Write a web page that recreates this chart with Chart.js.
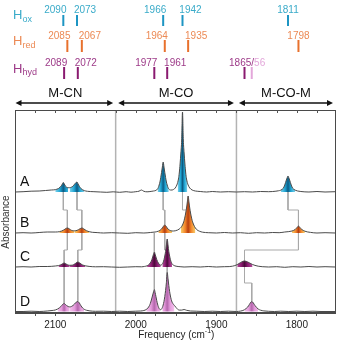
<!DOCTYPE html>
<html>
<head>
<meta charset="utf-8">
<script src="https://cdn.jsdelivr.net/npm/chart.js@4.4.0/dist/chart.umd.min.js"></script>
<style>
  html, body { margin: 0; padding: 0; background: #fff; }
  #c { display: block; }
</style>
</head>
<body>
<canvas id="c" width="339" height="342"></canvas>
<script>
// ---- band assignments (cm-1) ----
const hoxBands  = [2090, 2073, 1966, 1942, 1811];
const hredBands = [2085, 2067, 1964, 1935, 1798];
const hhydBands = [2089, 2072, 1977, 1961, 1865, 1856];

// peaks present in each spectrum
const peaksA = [2090, 2073, 1966, 1942, 1811];
const peaksB = [2085, 2067, 1964, 1935, 1798];
const peaksC = [2089, 2072, 1977, 1961, 1865];
const peaksD = [2089, 2072, 1977, 1961, 1856];

// band correlations between consecutive spectra (upper -> lower)
const linksAB = [[2090, 2085], [2073, 2067], [1966, 1964], [1942, 1935], [1811, 1798]];
const linksBC = [[2085, 2089], [2067, 2072], [1977, 1977], [1964, 1961], [1798, 1865]];
const linksCD = [[2089, 2089], [2072, 2072], [1977, 1977], [1961, 1961], [1865, 1856]];

// spectral regions
const regionNames  = ['M-CN', 'M-CO', 'M-CO-M'];
const regionBounds = [2150, 2025, 1875, 1752];

// axis
const freqMin = 1752, freqMax = 2150;
const xTickLabels = [2100, 2000, 1900, 1800];

// spectra: [frequency, absorbance above own baseline]
const traceNames   = ['A', 'B', 'C', 'D'];
const traceOffsets = [121, 80, 46, 1.5];

const traceA = [
  [2150,0],[2140,0.3],[2130,0.8],[2120,1],[2112,1.5],[2105,2],[2100,2.3],
  [2098,2.8],[2096,3.5],[2094,4.8],[2093,5.8],[2092,6.8],[2091,8.3],[2090,9.5],[2089,8.3],
  [2088,6.8],[2087,5.6],[2086,4.8],[2084,4.3],[2082,4.3],[2080,4.8],[2078,5.8],[2077,6.8],
  [2076,7.8],[2075,8.8],[2074,9.6],[2073,10],[2072,8.6],[2071,7],[2070,5.6],[2069,4.4],
  [2068,3.4],[2066,2.2],[2064,1.4],[2060,0.7],[2052,0.3],[2044,0],[2036,-0.3],[2028,0.2],
  [2020,-0.3],[2012,0.3],[2006,-0.2],[2000,0.3],[1996,0.8],[1993,2],[1990,0.7],[1986,0.2],
  [1981,0.6],[1978,1],[1975,1.6],[1973,3],[1972,4.5],[1971,7],[1970,10],[1969,14.5],
  [1968,19.5],[1967,25],[1966,30],[1965,25],[1964,19.5],[1963,14.5],[1962,10],[1961,7],
  [1960,4.5],[1959,3],[1957,2],[1955,2],[1953,2.6],[1951,4],[1949,7],[1948,9.5],
  [1947,13],[1946,19],[1945,28],[1944,39],[1943,52],[1942,80],[1941,52],[1940,39],
  [1939,28],[1938,19],[1937,13],[1936,9.5],[1935,7],[1933,4],[1930,2],[1926,1],
  [1920,0.5],[1912,0],[1905,0.5],[1895,0],[1885,0.3],[1875,0],[1865,0.3],[1855,0],
  [1845,0.5],[1835,0.3],[1826,0.8],[1823,1.2],[1820,1.8],[1818,2.8],[1817,3.6],[1816,5],
  [1815,7],[1814,9.5],[1813,12],[1812,14.2],[1811,16],[1810,14.2],[1809,12],[1808,9.5],
  [1807,7],[1806,5],[1805,3.6],[1804,2.8],[1802,1.8],[1799,1],[1795,0.5],[1785,0],
  [1775,0.5],[1765,0],[1752,0.3]
];
const traceB = [
  [2150,0],[2140,0.3],[2130,0],[2120,0.5],[2110,1],[2100,1],[2095,1.3],[2092,2],
  [2090,2.8],[2088,3.8],[2087,4.4],[2086,4.8],[2085,5],[2084,4.8],[2083,4.3],[2081,3.2],
  [2079,2.4],[2076,2.2],[2073,2.6],[2071,3.4],[2069,4.4],[2068,4.8],[2067,5],[2066,4.8],
  [2065,4.3],[2063,3.2],[2061,2.2],[2058,1.3],[2054,0.7],[2048,0.4],[2040,0],[2030,0.3],
  [2020,0],[2010,-0.3],[2000,0.3],[1990,0],[1982,0.5],[1976,1],[1972,1.8],[1970,2.6],
  [1968,4],[1967,5],[1966,6.3],[1965,7.4],[1964,8],[1963,7.4],[1962,6.3],[1961,5],
  [1960,4],[1958,2.8],[1955,2],[1951,2.2],[1948,3],[1946,4],[1944,5.5],[1942,8],
  [1941,10],[1940,12.5],[1939,16],[1938,20],[1937,25],[1936,31],[1935,37],[1934,31],
  [1933,25],[1932,20],[1931,16],[1930,12.5],[1929,10],[1928,8],[1926,5],[1924,3.2],
  [1921,1.8],[1917,0.8],[1910,0.3],[1900,0],[1890,0.5],[1880,0],[1870,0.3],[1860,-0.3],
  [1850,0.3],[1840,0],[1830,0.5],[1822,0.3],[1815,1],[1810,1.4],[1806,2],[1804,2.6],
  [1802,3.6],[1801,4.4],[1800,5.3],[1799,6.3],[1798,7],[1797,6.3],[1796,5.3],[1795,4.4],
  [1794,3.6],[1792,2.6],[1790,1.8],[1787,1.1],[1783,0.6],[1775,0],[1765,0.3],[1752,0]
];
const traceC = [
  [2150,0],[2140,0.3],[2130,0],[2120,0.5],[2110,0.5],[2100,1],[2096,1.4],[2093,2.2],
  [2091,3.2],[2090,3.7],[2089,4],[2088,3.7],[2087,3.2],[2085,2.3],[2082,1.7],[2079,1.8],
  [2077,2.4],[2075,3.5],[2074,4.2],[2073,4.7],[2072,5],[2071,4.7],[2070,4.2],[2068,3],
  [2066,2],[2063,1.2],[2058,0.6],[2050,0.2],[2040,0.3],[2030,0],[2020,-0.3],[2010,0],
  [2000,0.3],[1993,0.2],[1989,0.6],[1986,1.2],[1984,2.2],[1982,4],[1981,5.5],[1980,7.5],
  [1979,10],[1978,12.8],[1977,15],[1976,12.8],[1975,10],[1974,7.5],[1973,5.5],[1972,4],
  [1971,2.8],[1970,2],[1969,1.8],[1968,2.2],[1967,3],[1966,4.6],[1965,7.3],[1964,11],
  [1963,15.5],[1962,22],[1961,28],[1960,22],[1959,15.5],[1958,11],[1957,7.3],[1956,4.8],
  [1955,3.2],[1953,1.7],[1950,0.8],[1945,0.3],[1940,0],[1930,0.3],[1920,0],[1910,0.5],
  [1900,0],[1890,0.3],[1884,0.4],[1880,0.8],[1877,1.4],[1874,2.4],[1872,3.4],[1870,4.4],
  [1868,5.3],[1866,5.9],[1865,6],[1863,5.7],[1861,5],[1859,4.2],[1857,3.3],[1855,2.5],
  [1852,1.6],[1848,0.8],[1843,0.3],[1835,0],[1825,0.3],[1815,-0.3],[1805,0.3],[1795,0],
  [1785,0.5],[1775,0],[1765,0.3],[1752,0]
];
const traceD = [
  [2150,0],[2140,0],[2130,0.3],[2120,0],[2110,0.5],[2104,1],[2100,1.5],[2097,2.5],
  [2095,3.6],[2093,5],[2092,6],[2091,7],[2090,7.7],[2089,8],[2088,7.6],[2087,6.8],
  [2086,6],[2084,5],[2082,4.6],[2080,5],[2078,6],[2076,7.5],[2075,8.5],[2074,9.3],
  [2073,9.8],[2072,10],[2071,9.4],[2070,8.4],[2069,7],[2068,5.6],[2066,3.5],[2064,2.2],
  [2061,1.2],[2057,0.6],[2050,0.2],[2040,0.3],[2030,0],[2020,0.3],[2010,0],[2000,0.3],
  [1994,0.5],[1990,1],[1987,2],[1985,3.5],[1983,6],[1982,8],[1981,10.5],[1980,13.5],
  [1979,16.5],[1978,19.5],[1977,22],[1976,19],[1975,15],[1974,11],[1973,7.5],[1972,4.8],
  [1971,3],[1970,2],[1969,1.8],[1968,2.5],[1967,4],[1966,6.5],[1965,10],[1964,15],
  [1963,21],[1962,29],[1961,39],[1960,33],[1959,26],[1958,20],[1957,15.5],[1956,12],
  [1955,9.5],[1954,8],[1952,6],[1950,4],[1948,2.2],[1946,1.4],[1943,1.4],[1940,2],
  [1937,1.2],[1932,0.5],[1925,0.3],[1915,0],[1905,0.3],[1895,0],[1885,0.3],[1875,0],
  [1870,0.4],[1867,1],[1865,1.8],[1863,3],[1861,4.5],[1860,5.6],[1859,7],[1858,8.3],
  [1857,9.4],[1856,10],[1855,9.5],[1854,8.5],[1853,7.2],[1852,6],[1850,4],[1848,2.5],
  [1845,1.3],[1841,0.6],[1835,0.2],[1828,0],[1820,0.3],[1810,0],[1800,0.3],[1790,0],
  [1780,0.3],[1770,0],[1752,0]
];

// ---- styling ----
const FONT = '"Liberation Sans", Arial, Helvetica, sans-serif';
const LINE_COLOR = '#4a4a4a';
const LINK_COLOR = '#a9a9a9';
// gradient stops for peak fills: edge, body, centre
const fillPalettes = [
  ['#7dd2eb', '#20a5d3', '#0b5c85'],
  ['#f9cf6a', '#f2842a', '#b63e10'],
  ['#b54d9a', '#8c1c72', '#4b0a3a'],
  ['#f3c3ec', '#e59cdc', '#b566ad']
];
const linkDrop = [18, 17, 16];

const rowStyles = [
  { sub: 'ox',  bands: hoxBands,  text: '#3aabc9', tick: '#1d95c3', numY: 13,   tickY: [15, 26], hY: 18.5, subY: 21.5 },
  { sub: 'red', bands: hredBands, text: '#ec8a55', tick: '#e8712d', numY: 38.5, tickY: [40, 52], hY: 45,   subY: 47.5 },
  { sub: 'hyd', bands: hhydBands, text: '#9d3a88', tick: '#8a1a70', numY: 65.7, tickY: [67, 79], hY: 72.5, subY: 75 }
];
const paleText = '#e3a7da';
const paleBands = peaksD.filter(f => !peaksC.includes(f));

// ---- datasets ----
const traces = [traceA, traceB, traceC, traceD];
const tracePeaks = [peaksA, peaksB, peaksC, peaksD];
const toXY = (pts, off) => pts.map(p => ({ x: p[0], y: p[1] + off }));
const heightAt = (pts, f) => { const p = pts.find(q => q[0] === f); return p ? p[1] : 0; };

// walk down both flanks of a peak to find the part of the trace to shade
function peakSpan(pts, c) {
  const i = pts.findIndex(p => p[0] === c);
  const h = pts[i][1], floor = 0.12 * h, reach = 10.5;
  let l = i, r = i;
  while (l > 0 && pts[l - 1][1] < pts[l][1] && Math.abs(pts[l - 1][0] - c) <= reach) {
    l--; if (pts[l][1] <= floor) break;
  }
  while (r < pts.length - 1 && pts[r + 1][1] < pts[r][1] && Math.abs(pts[r + 1][0] - c) <= reach) {
    r++; if (pts[r][1] <= floor) break;
  }
  return pts.slice(l, r + 1);
}

function peakGradient(chart, hi, lo, pal) {
  const xs = chart.scales && chart.scales.x;
  if (!chart.chartArea || !xs) return pal[1];
  const x0 = xs.getPixelForValue(hi), x1 = xs.getPixelForValue(lo);
  const g = chart.ctx.createLinearGradient(x0, 0, x1, 0);
  g.addColorStop(0, pal[0]);
  g.addColorStop(0.3, pal[1]);
  g.addColorStop(0.5, pal[2]);
  g.addColorStop(0.7, pal[1]);
  g.addColorStop(1, pal[0]);
  return g;
}

const datasets = [];

// spectrum lines (on top)
traces.forEach((t, i) => {
  datasets.push({
    data: toXY(t, traceOffsets[i]),
    borderColor: LINE_COLOR, borderWidth: 1, pointRadius: 0,
    cubicInterpolationMode: 'monotone', fill: false, order: 0
  });
});

// coloured peak areas
traces.forEach((t, i) => {
  tracePeaks[i].forEach(c => {
    const span = peakSpan(t, c);
    const hi = span[0][0], lo = span[span.length - 1][0];
    const half = Math.max(hi - c, c - lo);
    datasets.push({
      data: toXY(span, traceOffsets[i]),
      borderWidth: 0, borderColor: 'rgba(0,0,0,0)', pointRadius: 0,
      cubicInterpolationMode: 'monotone',
      fill: { value: traceOffsets[i] },
      backgroundColor: ctx => peakGradient(ctx.chart, c + half, c - half, fillPalettes[i]),
      order: 1
    });
  });
});

// correlation step lines between spectra
[linksAB, linksBC, linksCD].forEach((links, k) => {
  const upOff = traceOffsets[k], lowOff = traceOffsets[k + 1];
  const mid = upOff - linkDrop[k];
  links.forEach(([f1, f2]) => {
    datasets.push({
      data: [
        { x: f1, y: upOff },
        { x: f1, y: mid },
        { x: f2, y: mid },
        { x: f2, y: lowOff + heightAt(traces[k + 1], f2) }
      ],
      borderColor: LINK_COLOR, borderWidth: 1, pointRadius: 0,
      tension: 0, fill: false, order: 2
    });
  });
});

// x ticks every 25 cm-1
const tickValues = [];
for (let v = 1775; v <= 2125; v += 25) tickValues.push(v);

// ---- annotations drawn around the plot ----
const decorations = {
  id: 'decorations',
  beforeDatasetsDraw(chart) {
    const { ctx, chartArea: a } = chart;
    const xs = chart.scales.x;
    ctx.save();
    ctx.strokeStyle = '#b3b3b3';
    ctx.lineWidth = 1.5;
    regionBounds.slice(1, -1).forEach(f => {
      const x = xs.getPixelForValue(f);
      ctx.beginPath(); ctx.moveTo(x, a.top); ctx.lineTo(x, a.bottom); ctx.stroke();
    });
    ctx.restore();
  },
  afterDraw(chart) {
    const { ctx, chartArea: a } = chart;
    const xs = chart.scales.x, ys = chart.scales.y;
    ctx.save();

    // frame
    ctx.strokeStyle = '#4a4a4a';
    ctx.lineWidth = 1;
    ctx.strokeRect(Math.round(a.left) + 0.5, Math.round(a.top) + 0.5,
                   Math.round(a.right - a.left) - 1, Math.round(a.bottom - a.top) - 1);
    // inward ticks on the top edge
    ctx.strokeStyle = '#555';
    tickValues.forEach(v => {
      const x = Math.round(xs.getPixelForValue(v)) + 0.5;
      ctx.beginPath(); ctx.moveTo(x, a.top); ctx.lineTo(x, a.top + 3); ctx.stroke();
    });

    // band assignment rows
    rowStyles.forEach(r => {
      ctx.fillStyle = r.text;
      ctx.textAlign = 'left';
      ctx.textBaseline = 'alphabetic';
      ctx.font = '13px ' + FONT;
      ctx.fillText('H', 13, r.hY);
      ctx.font = '9px ' + FONT;
      ctx.fillText(r.sub, 22.5, r.subY);

      const b = r.bands;
      ctx.font = '10px ' + FONT;
      ctx.textAlign = 'center';
      for (let i = 0; i < b.length; i++) {
        const f = b[i];
        const x = xs.getPixelForValue(f);
        const pale = paleBands.includes(f);
        ctx.strokeStyle = pale ? paleText : r.tick;
        ctx.lineWidth = 2;
        ctx.beginPath(); ctx.moveTo(x, r.tickY[0]); ctx.lineTo(x, r.tickY[1]); ctx.stroke();
      }
      for (let i = 0; i < b.length; i++) {
        const f = b[i];
        const x = xs.getPixelForValue(f);
        const next = b[i + 1], prev = b[i - 1];
        if (next !== undefined && f - next < 12) {
          // two close bands share one label, e.g. 1865/56
          const x2 = xs.getPixelForValue(next);
          const t1 = String(f) + '/', t2 = String(next).slice(2);
          const w1 = ctx.measureText(t1).width, w2 = ctx.measureText(t2).width;
          const start = (x + x2) / 2 - 1 - (w1 + w2) / 2;
          ctx.textAlign = 'left';
          ctx.fillStyle = r.text;
          ctx.fillText(t1, start, r.numY);
          ctx.fillStyle = paleText;
          ctx.fillText(t2, start + w1, r.numY);
          ctx.textAlign = 'center';
          ctx.fillStyle = r.text;
          i++;
          continue;
        }
        let dx = 0;
        if (next !== undefined && f - next < 35) dx = -8;
        else if (prev !== undefined && prev - f < 35) dx = 8;
        ctx.fillStyle = r.text;
        ctx.fillText(String(f), x + dx, r.numY);
      }
    });

    // region names and double arrows
    ctx.fillStyle = '#111';
    ctx.strokeStyle = '#111';
    ctx.font = '13px ' + FONT;
    ctx.textAlign = 'center';
    for (let i = 0; i < regionNames.length; i++) {
      const xl = xs.getPixelForValue(regionBounds[i]);
      const xr = xs.getPixelForValue(regionBounds[i + 1]);
      ctx.fillText(regionNames[i], (xl + xr) / 2, 97);
      const l = xl + (i === 0 ? 0.5 : 2.5), rr = xr - 2.5;
      const y = 103;
      ctx.lineWidth = 1.4;
      ctx.beginPath(); ctx.moveTo(l + 3, y); ctx.lineTo(rr - 3, y); ctx.stroke();
      ctx.beginPath(); ctx.moveTo(l, y); ctx.lineTo(l + 6, y - 3); ctx.lineTo(l + 6, y + 3); ctx.closePath(); ctx.fill();
      ctx.beginPath(); ctx.moveTo(rr, y); ctx.lineTo(rr - 6, y - 3); ctx.lineTo(rr - 6, y + 3); ctx.closePath(); ctx.fill();
    }

    // spectrum letters
    ctx.font = '14px ' + FONT;
    ctx.textAlign = 'left';
    ctx.fillStyle = '#111';
    traceNames.forEach((n, i) => {
      ctx.fillText(n, 20, ys.getPixelForValue(traceOffsets[i]) - 6);
    });

    // axis titles
    ctx.fillStyle = '#222';
    ctx.font = '10px ' + FONT;
    const t1 = 'Frequency (cm', t2 = '-1', t3 = ')';
    const w1 = ctx.measureText(t1).width;
    ctx.font = '7px ' + FONT;
    const w2 = ctx.measureText(t2).width;
    ctx.font = '10px ' + FONT;
    const w3 = ctx.measureText(t3).width;
    const cx = (a.left + a.right) / 2 + 1;
    const sx = cx - (w1 + w2 + w3) / 2;
    ctx.textAlign = 'left';
    ctx.fillText(t1, sx, 337.5);
    ctx.font = '7px ' + FONT;
    ctx.fillText(t2, sx + w1, 333);
    ctx.font = '10px ' + FONT;
    ctx.fillText(t3, sx + w1 + w2, 337.5);

    ctx.translate(9, 222);
    ctx.rotate(-Math.PI / 2);
    ctx.textAlign = 'center';
    ctx.fillStyle = '#333';
    ctx.fillText('Absorbance', 0, 0);
    ctx.restore();
  }
};

new Chart(document.getElementById('c'), {
  type: 'line',
  data: { datasets },
  options: {
    responsive: false,
    animation: false,
    events: [],
    layout: { padding: { top: 110, left: 15, right: 3.5, bottom: 8 } },
    plugins: { legend: { display: false }, tooltip: { enabled: false } },
    scales: {
      x: {
        type: 'linear', reverse: true, min: freqMin, max: freqMax,
        afterBuildTicks: s => { s.ticks = tickValues.map(v => ({ value: v })); },
        ticks: {
          autoSkip: false, maxRotation: 0, padding: 3,
          color: '#222', font: { family: FONT, size: 10 },
          callback: v => (xTickLabels.includes(v) ? String(v) : '')
        },
        grid: { drawOnChartArea: false, tickLength: 3, color: '#555', tickColor: '#555' },
        border: { color: '#4a4a4a', width: 1 }
      },
      y: { display: false, min: 0, max: 203 }
    }
  },
  plugins: [decorations]
});
</script>
</body>
</html>
